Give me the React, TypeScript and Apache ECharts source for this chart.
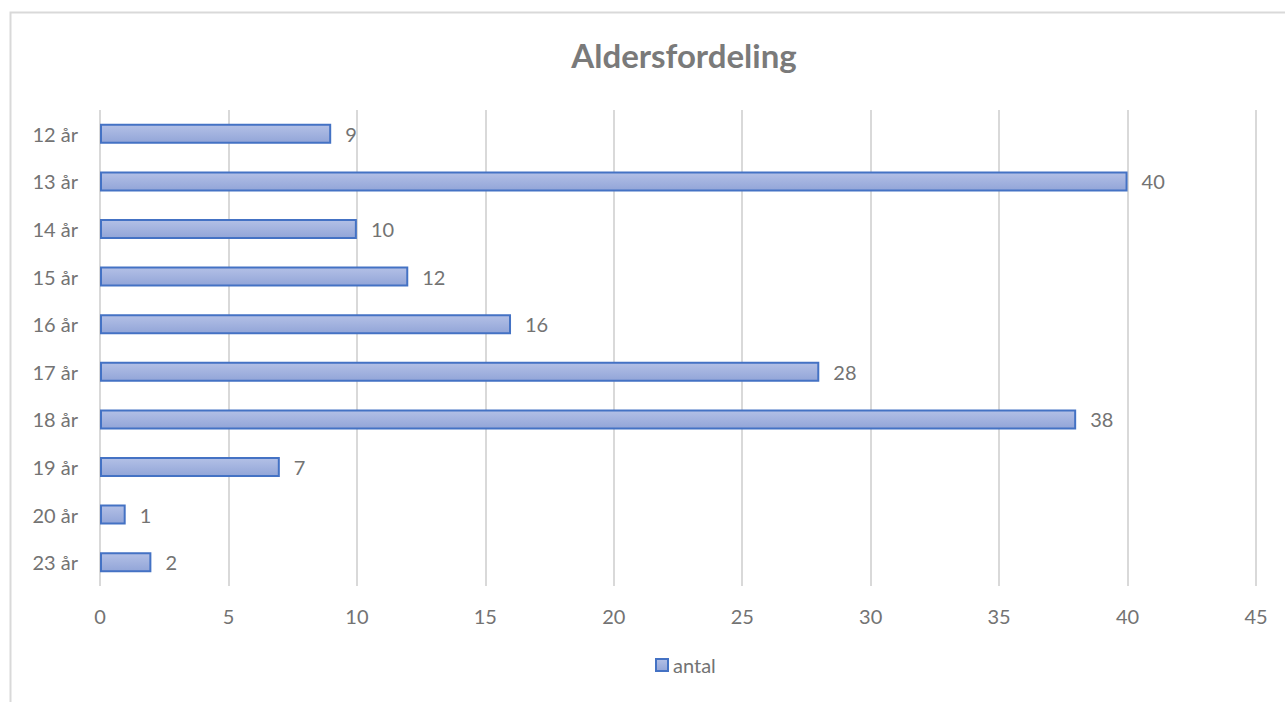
import React, { useEffect, useRef } from "react";
import * as echarts from "echarts";

const categories = ["12 år", "13 år", "14 år", "15 år", "16 år", "17 år", "18 år", "19 år", "20 år", "23 år"];
const antal = [9, 40, 10, 12, 16, 28, 38, 7, 1, 2];
const seriesName = "antal";
const titleText = "Aldersfordeling";

const FONT = "Lato, 'Open Sans', sans-serif";
const GRAY = "#737373";

export default function App() {
  const ref = useRef<HTMLDivElement>(null);
  useEffect(() => {
    if (!ref.current) return;
    const chart = echarts.init(ref.current, undefined, { renderer: "svg" });
    chart.setOption({
      animation: false,
      backgroundColor: "#ffffff",
      textStyle: { fontFamily: FONT },
      graphic: [
        {
          type: "rect",
          shape: { x: 10.5, y: 12.5, width: 1400, height: 800 },
          style: { fill: "none", stroke: "#d9d9d9", lineWidth: 2 },
          silent: true,
          z: -10,
        },
      ],
      title: {
        text: titleText,
        left: 679,
        top: 33,
        textAlign: "center",
        textStyle: { fontFamily: FONT, fontSize: 33, fontWeight: "bold", color: "#7a7a7a" },
      },
      legend: {
        data: [seriesName],
        left: 650,
        top: 650,
        icon: "rect",
        itemWidth: 12,
        itemHeight: 12,
        itemGap: 6,
        textStyle: { fontFamily: FONT, fontSize: 20, color: GRAY },
      },
      grid: { left: 100, right: 29, top: 110, bottom: 116, containLabel: false },
      xAxis: {
        type: "value",
        min: 0,
        max: 45,
        interval: 5,
        axisLine: { show: false },
        axisTick: { show: false },
        axisLabel: { fontFamily: FONT, fontSize: 20, color: GRAY, margin: 20 },
        splitLine: { show: true, lineStyle: { color: "#d9d9d9", width: 2 } },
      },
      yAxis: {
        type: "category",
        data: categories,
        inverse: true,
        axisLine: { show: false },
        axisTick: { show: false },
        axisLabel: { fontFamily: FONT, fontSize: 20, color: GRAY, margin: 22 },
        splitLine: { show: false },
      },
      series: [
        {
          name: seriesName,
          type: "bar",
          data: antal,
          barWidth: "42%",
          itemStyle: {
            color: new echarts.graphic.LinearGradient(0, 0, 0, 1, [
              { offset: 0, color: "#b3c0e6" },
              { offset: 1, color: "#92a5d8" },
            ]),
            borderColor: "#4472c4",
            borderWidth: 2,
          },
          label: {
            show: true,
            position: "right",
            distance: 14,
            fontFamily: FONT,
            fontSize: 20,
            color: GRAY,
          },
        },
      ],
    });
    return () => chart.dispose();
  }, []);
  return (
    <div
      ref={ref}
      style={{ position: "fixed", left: 0, top: 0, width: 1285, height: 702, background: "#fff" }}
    />
  );
}
